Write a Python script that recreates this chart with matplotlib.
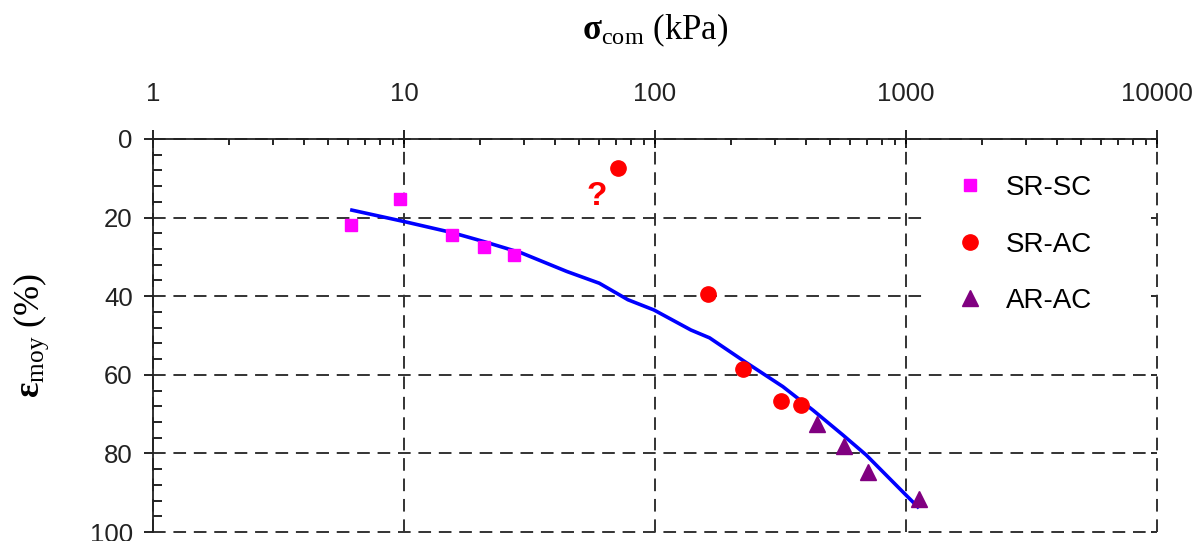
import matplotlib.pyplot as plt
from matplotlib.ticker import FixedLocator, LogLocator, MultipleLocator, NullFormatter
from matplotlib.patches import Rectangle

plt.rcParams['mathtext.fontset'] = 'custom'
plt.rcParams['mathtext.rm'] = 'Liberation Serif'
plt.rcParams['mathtext.bf'] = 'Liberation Serif:bold'
plt.rcParams['mathtext.it'] = 'Liberation Serif:italic'

# donnees
sr_sc_x = [6.15, 9.6, 15.5, 20.8, 27.4]
sr_sc_y = [21.8, 15.2, 24.4, 27.4, 29.5]
sr_ac_x = [71, 163, 224, 318, 380]
sr_ac_y = [7.4, 39.5, 58.5, 66.6, 67.7]
ar_ac_x = [442, 565, 706, 1127]
ar_ac_y = [72.5, 78.0, 84.7, 91.6]

# courbe d'ajustement
fit_x = [6.2, 10, 15.5, 20.8, 29.4, 44.5, 60, 78, 99, 139, 165, 226, 323, 426, 560, 694, 982, 1114]
fit_y = [18.1, 21.0, 23.8, 26.1, 29.0, 33.7, 36.7, 40.9, 43.5, 48.6, 50.6, 56.5, 63.0, 69.0, 75.3, 80.4, 90.1, 93.6]

xticks = [1, 10, 100, 1000, 10000]
xlabels = ['1', '10', '100', '1000', '10000']
yticks = [0, 20, 40, 60, 80, 100]

fig = plt.figure(figsize=(11.96, 5.41), dpi=100)
ax = fig.add_axes([153/1196, 1 - 532/541, 1004/1196, 393/541])

ax.plot(fit_x, fit_y, color='#0000FF', lw=2.6, zorder=3)
ax.plot(sr_sc_x, sr_sc_y, 's', color='#FF00FF', ms=9, ls='none', label='SR-SC', zorder=4)
ax.plot(sr_ac_x, sr_ac_y, 'o', color='#FF0000', ms=11, ls='none', label='SR-AC', zorder=4)
ax.plot(ar_ac_x, ar_ac_y, '^', color='#800080', ms=12, ls='none', label='AR-AC', zorder=4)

ax.text(58.7, 14.6, '?', color='#FF0000', fontsize=24, fontweight='bold',
        family='Liberation Sans', ha='center', va='center')

ax.set_xscale('log')
ax.set_xlim(1, 10000)
ax.set_ylim(100, 0)

ax.xaxis.tick_top()
ax.xaxis.set_label_position('top')
ax.xaxis.set_major_locator(FixedLocator(xticks))
ax.set_xticklabels(xlabels)
ax.xaxis.set_minor_locator(LogLocator(base=10, subs=range(2, 10)))
ax.xaxis.set_minor_formatter(NullFormatter())
ax.set_yticks(yticks)
ax.yaxis.set_minor_locator(MultipleLocator(4))

for lab in ax.get_xticklabels() + ax.get_yticklabels():
    lab.set_family('Liberation Sans')
    lab.set_fontsize(18.5)
    lab.set_color('#222222')

ax.tick_params(axis='x', which='major', direction='inout', length=13, width=1.2, pad=17)
ax.tick_params(axis='x', which='minor', direction='in', length=4.3, width=1.2)
ax.tick_params(axis='y', which='major', direction='out', length=6.5, width=1.2, pad=8)
ax.tick_params(axis='y', which='minor', direction='in', length=6.5, width=1.2)

for s in ['right', 'bottom']:
    ax.spines[s].set_visible(False)
for s in ['left', 'top']:
    ax.spines[s].set_linewidth(1.3)
    ax.spines[s].set_color('#222222')

ax.grid(True, which='major', color='#333333', lw=1.4, ls=(0, (6.5, 4)))
for gl in ax.get_xgridlines() + ax.get_ygridlines():
    gl.set_clip_on(False)

ax2 = ax.secondary_yaxis('right')
ax2.set_yticks(yticks)
ax2.tick_params(direction='in', length=4.5, width=1.2, labelright=False)
ax2.spines['right'].set_visible(False)

ax.add_patch(Rectangle((0.769, 0.486), 0.222, 0.499, transform=ax.transAxes,
                       facecolor='white', edgecolor='none', zorder=2))
ax.legend(loc='upper left', bbox_to_anchor=(0.769, 0.972), borderaxespad=0, frameon=False,
          prop={'family': 'Liberation Sans', 'size': 20}, numpoints=1,
          handlelength=1.44, handletextpad=0.58, labelspacing=1.1, borderpad=0.9)

ax.set_xlabel(r'$\mathbf{\sigma}_{\mathrm{com}}$ (kPa)', family='Liberation Serif',
              fontsize=25, labelpad=31)
ax.set_ylabel(r'$\mathbf{\varepsilon}_{\mathrm{moy}}$ (%)', family='Liberation Serif',
              fontsize=26, labelpad=28)

fig.savefig('out.png', dpi=100)
